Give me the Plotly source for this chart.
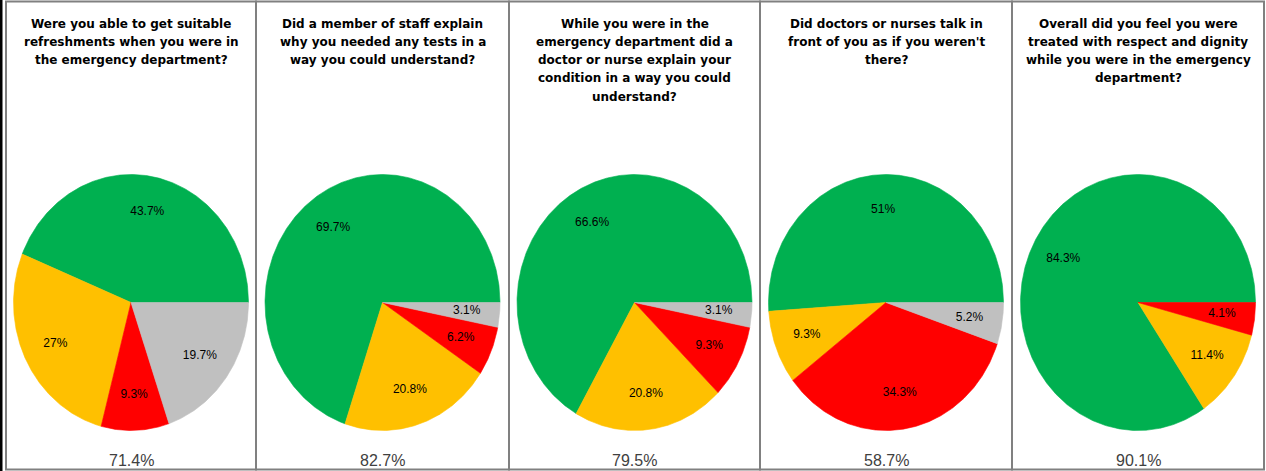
import numpy as np
import plotly.graph_objects as go

# Survey questions (one panel each)
questions = [
    "Were you able to get suitable<br>refreshments when you were in<br>the emergency department?",
    "Did a member of staff explain<br>why you needed any tests in a<br>way you could understand?",
    "While you were in the<br>emergency department did a<br>doctor or nurse explain your<br>condition in a way you could<br>understand?",
    "Did doctors or nurses talk in<br>front of you as if you weren't<br>there?",
    "Overall did you feel you were<br>treated with respect and dignity<br>while you were in the emergency<br>department?",
]

# Response shares (%) per question, in slice order
green_pct = [43.7, 69.7, 66.6, 51.0, 84.3]
yellow_pct = [27.0, 20.8, 20.8, 9.3, 11.4]
red_pct = [9.3, 6.2, 9.3, 34.3, 4.1]
grey_pct = [19.7, 3.1, 3.1, 5.2, None]

# Overall score under each pie
scores = ["71.4%", "82.7%", "79.5%", "58.7%", "90.1%"]

slice_colors = ["#00B050", "#FFC000", "#FF0000", "#C0C0C0"]

W, H = 1266, 471
panel_edges = [6, 256, 509, 760, 1012, 1264]
pie_cy = 302.5
rx, ry = 117.5, 128.0
label_frac = 0.72
title_top = 23.5
title_step = 18.3

fig = go.Figure()

for i in range(5):
    cx = (panel_edges[i] + panel_edges[i + 1]) / 2
    vals = [green_pct[i], yellow_pct[i], red_pct[i], grey_pct[i]]
    total = sum(v for v in vals if v is not None)
    start = 0.0
    lx, ly, lt = [], [], []
    # Slices run counter-clockwise from 3 o'clock
    for v, col in zip(vals, slice_colors):
        if v is None:
            continue
        sweep = 360.0 * v / total
        ang = np.radians(np.linspace(start, start + sweep, max(int(sweep * 2), 3)))
        xs = np.concatenate([[cx], cx + rx * np.cos(ang), [cx]])
        ys = np.concatenate([[pie_cy], pie_cy - ry * np.sin(ang), [pie_cy]])
        fig.add_trace(go.Scatter(
            x=xs, y=ys, mode="lines", fill="toself", fillcolor=col,
            line=dict(color=col, width=0.6), hoverinfo="skip", showlegend=False,
        ))
        mid = np.radians(start + sweep / 2)
        lx.append(cx + label_frac * rx * np.cos(mid))
        ly.append(pie_cy - label_frac * ry * np.sin(mid))
        lt.append(f"{v:g}%")
        start += sweep
    fig.add_trace(go.Scatter(
        x=lx, y=ly, mode="text", text=lt, textposition="middle center",
        textfont=dict(family="Liberation Sans, Arial, sans-serif", size=12, color="#000000"),
        hoverinfo="skip", showlegend=False,
    ))

    # Panel frame
    fig.add_shape(type="rect", x0=panel_edges[i], x1=panel_edges[i + 1], y0=1.5, y1=469.5,
                  line=dict(color="#808080", width=2), layer="below")
    # Question title, one line at a time
    for k, line in enumerate(questions[i].split("<br>")):
        fig.add_annotation(x=cx, y=title_top + k * title_step, text=f"<b>{line}</b>",
                           showarrow=False, xanchor="center", yanchor="middle",
                           font=dict(family="DejaVu Sans, Verdana, sans-serif", size=12,
                                     color="#000000"))
    # Score
    fig.add_annotation(x=cx, y=460, text=scores[i], showarrow=False,
                       xanchor="center", yanchor="middle",
                       font=dict(family="Liberation Sans, Arial, sans-serif", size=16, color="#404040"))

# Dark edge on the far left
fig.add_shape(type="rect", x0=0, x1=2.5, y0=0, y1=H, fillcolor="#000000",
              line=dict(width=0), layer="above")

fig.update_layout(
    width=W, height=H, margin=dict(l=0, r=0, t=0, b=0),
    paper_bgcolor="#FFFFFF", plot_bgcolor="#FFFFFF",
    xaxis=dict(range=[0, W], visible=False, fixedrange=True),
    yaxis=dict(range=[H, 0], visible=False, fixedrange=True),
    showlegend=False,
)

fig.write_html("out.html")
